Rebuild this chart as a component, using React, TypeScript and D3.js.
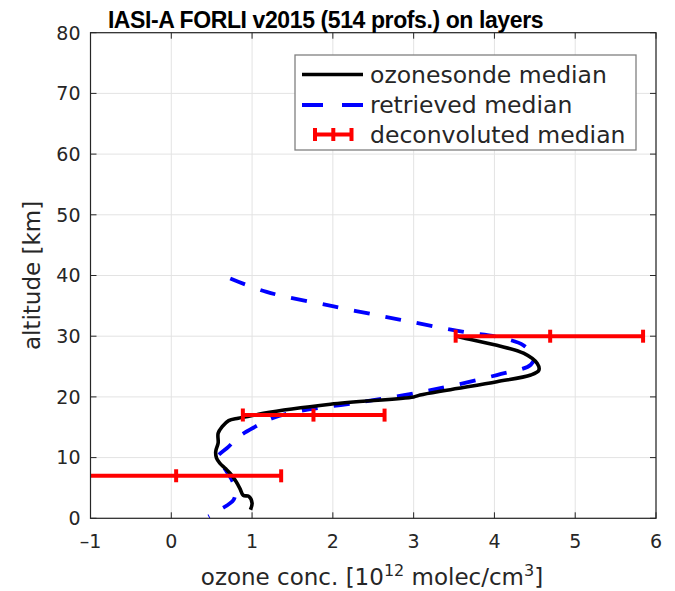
import * as d3 from 'd3'

// ozonesonde median profile (altitude km, concentration 1e12 molec/cm3)
const sondeAlt = [1.4, 2.5, 3.6, 3.8, 4.9, 6.3, 7.4, 8.2, 9.1, 9.9, 11.0, 12.4, 14.0, 15.1, 16.1, 16.5, 17.0, 17.3, 18.8, 20.0, 20.3, 21.1, 22.5, 23.6, 24.4, 25.5, 27.2, 28.5, 29.7, 30.0]
const sondeConc = [0.98, 1.0, 0.96, 0.89, 0.85, 0.79, 0.73, 0.67, 0.6, 0.56, 0.55, 0.58, 0.58, 0.63, 0.71, 0.83, 1.04, 1.14, 1.97, 3.0, 3.08, 3.41, 4.03, 4.45, 4.55, 4.53, 4.36, 4.03, 3.62, 3.54]

// retrieved median profile (top down)
const retrAlt = [39.5, 37.3, 34.9, 32.7, 30.7, 29.9, 28.5, 26.6, 25.3, 23.6, 21.1, 19.2, 17.6, 16.5, 15.1, 13.4, 11.8, 10.1, 9.6, 8.0, 6.3, 4.7, 3.0, 1.4, 0.3]
const retrConc = [0.73, 1.18, 2.01, 2.84, 3.62, 4.03, 4.36, 4.49, 4.45, 4.03, 3.21, 2.38, 1.56, 1.25, 1.04, 0.83, 0.71, 0.57, 0.58, 0.67, 0.75, 0.79, 0.77, 0.6, 0.46]

// deconvoluted median on layers, with low / high bounds
const layerAlt = [7, 17, 30]
const layerMed = [0.06, 1.76, 4.69]
const layerLow = [-1.24, 0.886, 3.52]
const layerHigh = [1.36, 2.64, 5.84]

const xTicks = [-1, 0, 1, 2, 3, 4, 5, 6]
const yTicks = [0, 10, 20, 30, 40, 50, 60, 70, 80]

const W = 675
const H = 591
const plot = { left: 90.5, right: 656, top: 32.7, bottom: 518.3 }
const axisColor = '#262626'
const font = '"DejaVu Sans", sans-serif'

export default function App() {
  const x = d3.scaleLinear().domain([-1, 6]).range([plot.left, plot.right])
  const y = d3.scaleLinear().domain([0, 80]).range([plot.bottom, plot.top])

  const sondeLine = d3
    .line<number>()
    .x((_, i) => x(sondeConc[i]))
    .y((a) => y(a))
    .curve(d3.curveCatmullRom)
  const retrLine = d3
    .line<number>()
    .x((_, i) => x(retrConc[i]))
    .y((a) => y(a))
    .curve(d3.curveCatmullRom)

  const cap = 6.5
  const legend = { x: 295, y: 55, w: 341, h: 95 }

  return (
    <div style={{ position: 'absolute', left: 0, top: 0 }}>
      <svg width={W} height={H} style={{ display: 'block', background: '#fff' }}>
        <defs>
          <clipPath id="plotClip">
            <rect x={plot.left} y={plot.top} width={plot.right - plot.left} height={plot.bottom - plot.top} />
          </clipPath>
        </defs>

        {/* grid */}
        <g stroke="#e3e3e3" strokeWidth={1}>
          {xTicks.map((t) => (
            <line key={'gx' + t} x1={x(t)} x2={x(t)} y1={plot.top} y2={plot.bottom} />
          ))}
          {yTicks.map((t) => (
            <line key={'gy' + t} x1={plot.left} x2={plot.right} y1={y(t)} y2={y(t)} />
          ))}
        </g>

        {/* data */}
        <g clipPath="url(#plotClip)" fill="none">
          <path d={retrLine(retrAlt) || ''} stroke="#0000ff" strokeWidth={3.8} strokeDasharray="16,16" />
          <path d={sondeLine(sondeAlt) || ''} stroke="#000" strokeWidth={3.6} strokeLinejoin="round" />
          {layerAlt.map((a, i) => (
            <g key={'eb' + a} stroke="#ff0000" strokeWidth={4}>
              <line x1={x(layerLow[i])} x2={x(layerHigh[i])} y1={y(a)} y2={y(a)} />
              <line x1={x(layerLow[i])} x2={x(layerLow[i])} y1={y(a) - cap} y2={y(a) + cap} />
              <line x1={x(layerMed[i])} x2={x(layerMed[i])} y1={y(a) - cap} y2={y(a) + cap} />
              <line x1={x(layerHigh[i])} x2={x(layerHigh[i])} y1={y(a) - cap} y2={y(a) + cap} />
            </g>
          ))}
        </g>

        {/* axes box and ticks */}
        <rect
          x={plot.left}
          y={plot.top}
          width={plot.right - plot.left}
          height={plot.bottom - plot.top}
          fill="none"
          stroke={axisColor}
          strokeWidth={1.2}
        />
        <g stroke={axisColor} strokeWidth={1}>
          {xTicks.map((t) => (
            <g key={'tx' + t}>
              <line x1={x(t)} x2={x(t)} y1={plot.bottom} y2={plot.bottom - 6} />
              <line x1={x(t)} x2={x(t)} y1={plot.top} y2={plot.top + 6} />
            </g>
          ))}
          {yTicks.map((t) => (
            <g key={'ty' + t}>
              <line x1={plot.left} x2={plot.left + 6} y1={y(t)} y2={y(t)} />
              <line x1={plot.right} x2={plot.right - 6} y1={y(t)} y2={y(t)} />
            </g>
          ))}
        </g>

        <g fontFamily={font} fontSize={19} fill={axisColor}>
          {xTicks.map((t) => (
            <text key={'lx' + t} x={x(t)} y={548} textAnchor="middle">
              {t < 0 ? '\u2013' + Math.abs(t) : t}
            </text>
          ))}
          {yTicks.map((t) => (
            <text key={'ly' + t} x={plot.left - 10} y={y(t)} dy="0.36em" textAnchor="end">
              {t}
            </text>
          ))}
        </g>

        {/* axis labels */}
        <text x={372} y={585} textAnchor="middle" fontFamily={font} fontSize={23} fill={axisColor}>
          ozone conc. [10
          <tspan fontSize={16} dy={-9}>
            12
          </tspan>
          <tspan dy={9}> molec/cm</tspan>
          <tspan fontSize={16} dy={-9}>
            3
          </tspan>
          <tspan dy={9}>]</tspan>
        </text>
        <text
          transform={`translate(40,${(plot.top + plot.bottom) / 2}) rotate(-90)`}
          textAnchor="middle"
          fontFamily={font}
          fontSize={23}
          fill={axisColor}
        >
          altitude [km]
        </text>

        {/* title */}
        <text
          x={325.5}
          y={28}
          textAnchor="middle"
          fontFamily='"Liberation Sans", Arial, sans-serif'
          fontWeight="bold"
          fontSize={23}
          letterSpacing={-0.4}
          fill="#000"
        >
          IASI-A FORLI v2015 (514 profs.) on layers
        </text>

        {/* legend */}
        <g>
          <rect x={legend.x} y={legend.y} width={legend.w} height={legend.h} fill="#fff" stroke="#808080" strokeWidth={1.3} />
          <line x1={302} x2={363} y1={74.5} y2={74.5} stroke="#000" strokeWidth={3.6} />
          <line x1={302} x2={363} y1={105} y2={105} stroke="#0000ff" strokeWidth={3.8} strokeDasharray="21,19" />
          <g stroke="#ff0000" strokeWidth={4}>
            <line x1={315} x2={351.5} y1={134.5} y2={134.5} />
            <line x1={315} x2={315} y1={134.5 - cap} y2={134.5 + cap} />
            <line x1={333.3} x2={333.3} y1={134.5 - cap} y2={134.5 + cap} />
            <line x1={351.5} x2={351.5} y1={134.5 - cap} y2={134.5 + cap} />
          </g>
          <g fontFamily={font} fontSize={23.5} fill={axisColor}>
            <text x={370} y={83}>ozonesonde median</text>
            <text x={370} y={113}>retrieved median</text>
            <text x={370} y={142.5}>deconvoluted median</text>
          </g>
        </g>
      </svg>
    </div>
  )
}
